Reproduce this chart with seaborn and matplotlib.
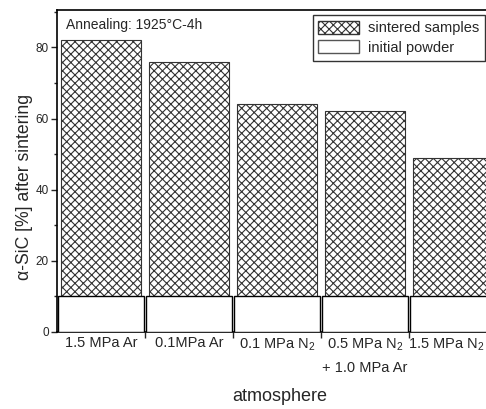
import matplotlib
matplotlib.use("Agg")
import matplotlib.pyplot as plt
import matplotlib.transforms as mtransforms
import seaborn as sns
import pandas as pd
from matplotlib.patches import Patch
from matplotlib.ticker import FixedLocator, MultipleLocator

categories = ["1.5 MPa Ar", "0.1MPa Ar", "0.1 MPa N$_2$",
              "0.5 MPa N$_2$\n+ 1.0 MPa Ar", "1.5 MPa N$_2$"]
sintered = [82, 76, 64, 62, 49]
initial = [10, 10, 10, 10, 10]

sns.set_theme(style="ticks")
plt.rcParams["font.family"] = ["Liberation Sans", "DejaVu Sans"]
plt.rcParams["mathtext.fontset"] = "custom"
plt.rcParams["mathtext.rm"] = "Liberation Sans"
plt.rcParams["mathtext.it"] = "Liberation Sans:italic"
plt.rcParams["hatch.linewidth"] = 0.8

df = pd.DataFrame({"atm": categories, "sintered": sintered, "initial": initial})

fig = plt.figure(figsize=(4.86, 4.09), dpi=100)
ax = fig.add_axes([57/486, 1 - 332/409, 1 - 57/486 + 0.01, (332 - 10)/409])

sns.barplot(data=df, x="atm", y="sintered", color="white", width=0.9,
            edgecolor="#333333", linewidth=0.8, hatch="xxxx", ax=ax, zorder=2)
sns.barplot(data=df, x="atm", y="initial", color="white", width=0.97,
            edgecolor="black", linewidth=1.0, ax=ax, zorder=3)

ax.set_xlim(-0.5, 4.43)
ax.set_ylim(0, 90.5)
ax.yaxis.set_major_locator(FixedLocator([0, 20, 40, 60, 80]))
ax.yaxis.set_minor_locator(MultipleLocator(10))
ax.set_xticks(range(len(categories)))
ax.set_xticklabels(categories, fontsize=10.5, linespacing=1.8)
ax.tick_params(axis="x", length=0, pad=3)
ax.xaxis.set_minor_locator(FixedLocator([0.5, 1.5, 2.5, 3.5]))
ax.tick_params(axis="x", which="minor", length=4, width=1, direction="out")
ax.tick_params(axis="y", which="major", length=4, width=1, labelsize=8.5, direction="out", pad=2)
ax.tick_params(axis="y", which="minor", length=2.5, width=1, direction="out")

# nudge the last (edge) label left so it stays within the figure, as in the reference
last = ax.get_xticklabels()[-1]
last.set_transform(last.get_transform() + mtransforms.ScaledTranslation(-7/100, 0, fig.dpi_scale_trans))

for s in ["left", "bottom", "top"]:
    ax.spines[s].set_linewidth(1.2)
    ax.spines[s].set_color("black")
ax.spines["right"].set_visible(False)

ax.set_xlabel("atmosphere", fontsize=13)
ax.xaxis.set_label_coords((280 - 57) / 433.86, -0.175)
ax.set_ylabel("α-SiC [%] after sintering", fontsize=12.7)
ax.yaxis.set_label_coords(-0.074, 0.45)
ax.yaxis.label.set_va("center")

ax.text(0.02, 0.975, "Annealing: 1925°C-4h", transform=ax.transAxes,
        fontsize=10, va="top", ha="left")

handles = [Patch(facecolor="white", edgecolor="#333333", hatch="xxxx", label="sintered samples"),
           Patch(facecolor="white", edgecolor="#555555", label="initial powder")]
leg = ax.legend(handles=handles, loc="upper right", bbox_to_anchor=(0.9865, 0.985),
                borderaxespad=0, fontsize=10.5, frameon=True, fancybox=False,
                edgecolor="black", handlelength=2.8, handleheight=1.0, borderpad=0.4,
                labelspacing=0.35, handletextpad=0.6)
leg.get_frame().set_linewidth(1.0)

fig.savefig("out.png", dpi=100)
